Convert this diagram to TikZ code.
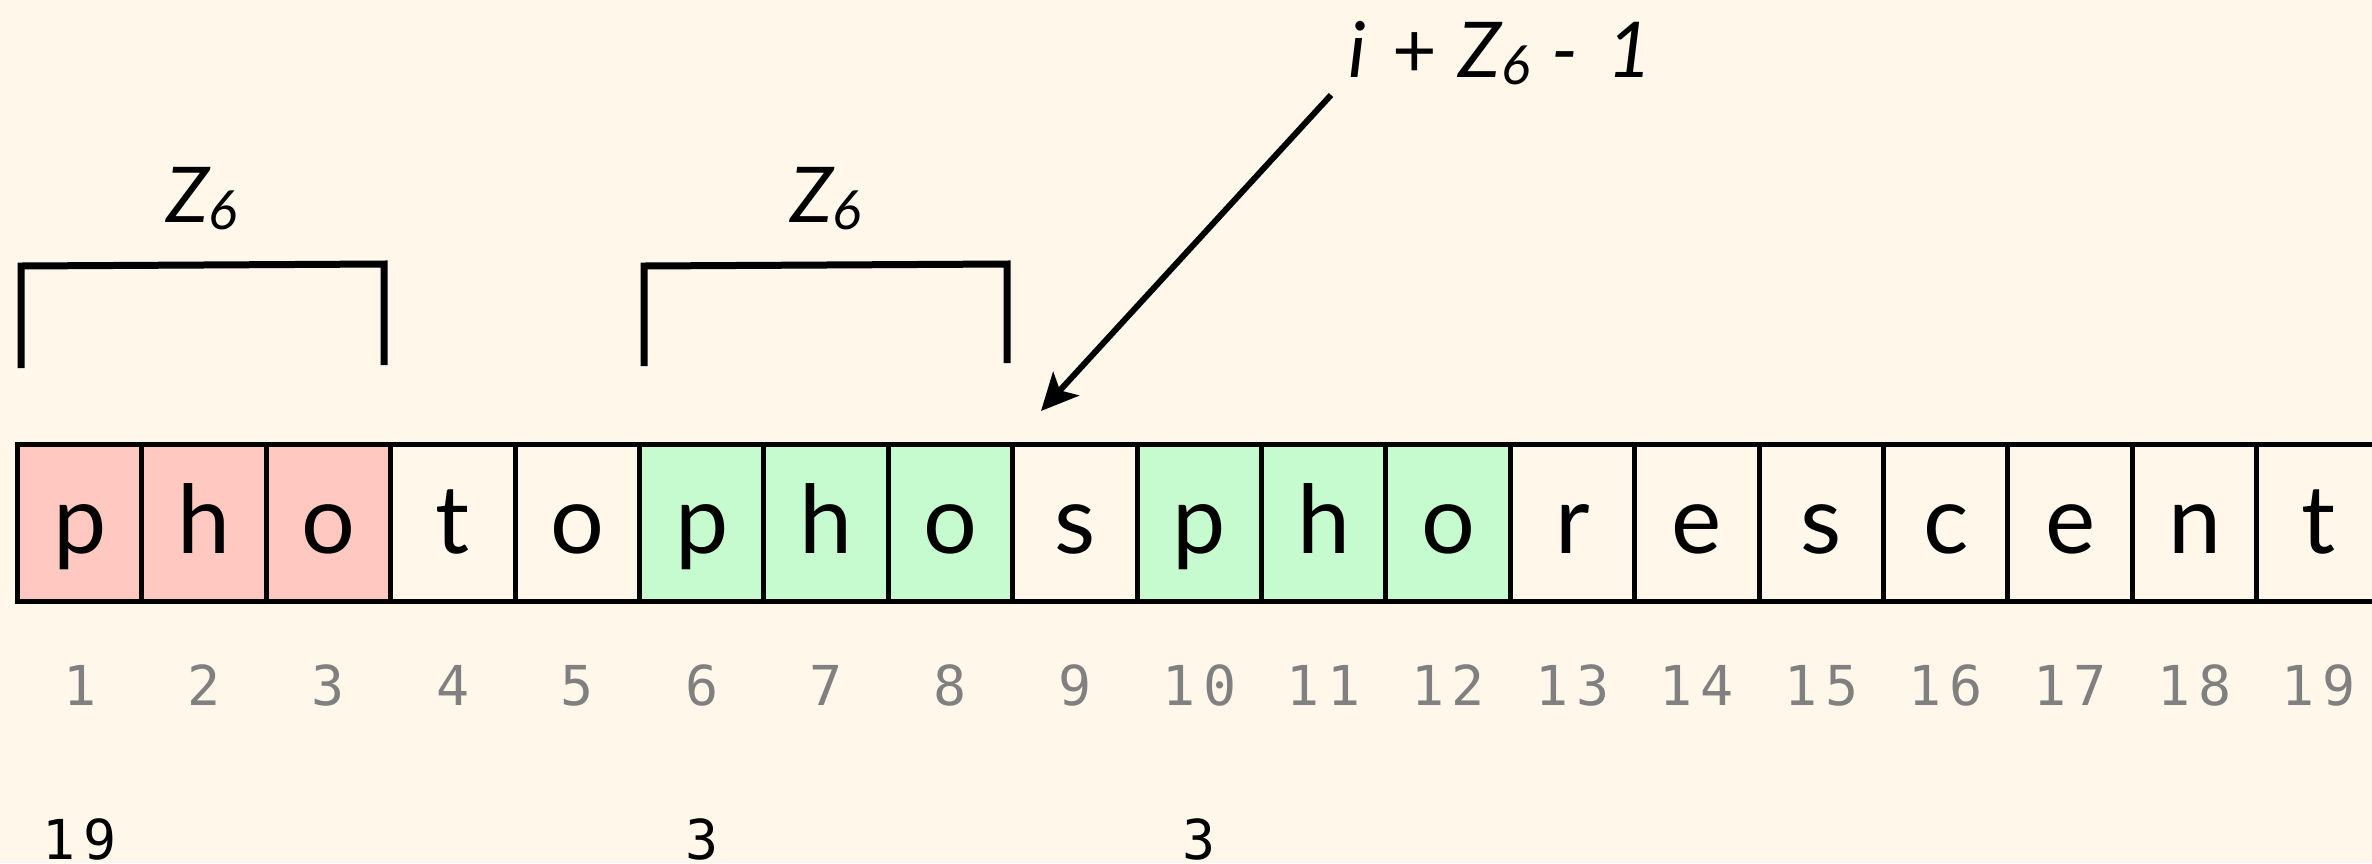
\documentclass[tikz,border=0pt]{standalone}
\usepackage{fontspec}
\setmainfont{Lato}
\newfontfamily\monofont[LetterSpace=14]{DejaVu Sans Mono}
\usetikzlibrary{arrows.meta}
\definecolor{bg}{HTML}{FEF7EA}
\definecolor{redcell}{HTML}{FFC9C1}
\definecolor{greencell}{HTML}{C6FBCF}
\definecolor{idxgray}{HTML}{808080}
\newcommand\zsub[1]{\raisebox{-7pt}{\fontsize{54}{54}\selectfont #1}}
\begin{document}
\begin{tikzpicture}[x=1pt,y=-1pt,
  cell/.style={draw=black, line width=5pt, minimum width=124.4pt, minimum height=156.5pt,
    inner sep=0pt, outer sep=0pt, anchor=north west},
  letter/.style={font=\fontsize{95}{95}\selectfont, anchor=base, inner sep=0pt},
  idx/.style={font=\monofont\fontsize{55}{55}\selectfont, text=idxgray, anchor=base,
    inner sep=0pt},
  cnt/.style={font=\monofont\fontsize{55}{55}\selectfont, text=black, anchor=base,
    inner sep=0pt},
  bracketline/.style={line width=7pt},
  zlabel/.style={font=\itshape\fontsize{77}{77}\selectfont, anchor=base, inner sep=0pt},
  pointer/.style={line width=6pt, -{Stealth[length=37pt,width=35pt,inset=9pt]}}
]
\fill[bg] (0,0) rectangle (2372,863);
\useasboundingbox (0,0) rectangle (2372,863);

% cells
\foreach \i/\ch/\col in {1/p/redcell,2/h/redcell,3/o/redcell,4/t/bg,5/o/bg,
  6/p/greencell,7/h/greencell,8/o/greencell,9/s/bg,10/p/greencell,11/h/greencell,
  12/o/greencell,13/r/bg,14/e/bg,15/s/bg,16/c/bg,17/e/bg,18/n/bg,19/t/bg}{
  \node[cell, fill=\col] (c\i) at ({17.5+(\i-1)*124.4}, 444.5) {};
  \node[letter] (l\i) at ({17.5+(\i-0.5)*124.4}, 553) {\ch};
  \node[idx] (n\i) at ({17.5+(\i-0.5)*124.4}, 705) {\i};
}

% counts
\node[cnt] (k1) at ({17.5+0.5*124.4}, 859) {19};
\node[cnt] (k6) at ({17.5+5.5*124.4}, 859) {3};
\node[cnt] (k10) at ({17.5+9.5*124.4}, 859) {3};

% brackets
\draw[bracketline] (21,368) -- (21,266) -- (384,264) -- (384,365);
\draw[bracketline] (644,366) -- (644,266) -- (1007,264) -- (1007,363);
\node[zlabel] (z1) at (202,222) {Z\zsub{6}};
\node[zlabel] (z2) at (826,222) {Z\zsub{6}};

% top label and arrow
\node[zlabel] (top) at (1500,77)
  {i\hspace{27pt}{\upshape+}\hspace{21pt}Z\zsub{6}\hspace{21pt}-\hspace{29pt}1};
\coordinate (tail) at (1331,95);
\coordinate (tip) at (1041,411);
\draw[pointer] (tail) -- (tip);
\end{tikzpicture}
\end{document}
